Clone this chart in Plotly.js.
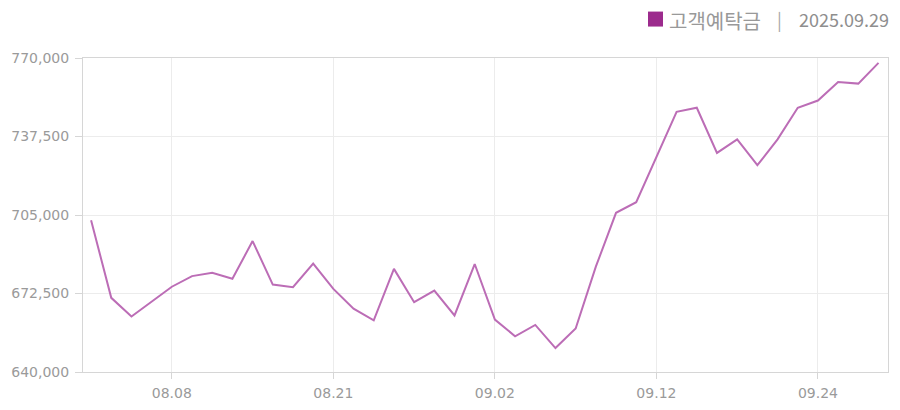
<!DOCTYPE html>
<html>
<head>
<meta charset="utf-8">
<script src="https://cdn.plot.ly/plotly-3.0.1.min.js"></script>
<style>html,body{margin:0;padding:0;background:#fff;}#chart{width:900px;height:410px;}</style>
</head>
<body>
<div id="chart"></div>
<script>
const dates = ['08.04','08.05','08.06','08.07','08.08','08.11','08.12','08.13','08.14','08.18',
  '08.19','08.20','08.21','08.22','08.25','08.26','08.27','08.28','08.29','09.01',
  '09.02','09.03','09.04','09.05','09.08','09.09','09.10','09.11','09.12','09.15',
  '09.16','09.17','09.18','09.19','09.22','09.23','09.24','09.25','09.26','09.29'];
const deposits = [702800,670700,663000,669300,675300,679700,681100,678600,694200,676200,
  675100,684900,674400,666200,661400,682700,668900,673700,663400,684700,
  661700,654800,659500,649900,658000,683600,705900,710300,729000,747700,
  749400,730700,736300,725600,736300,749400,752400,760100,759400,768000];
const xTicks = ['08.08','08.21','09.02','09.12','09.24'];
const yTicks = [640000,672500,705000,737500,770000];
const seriesName = '고객예탁금';
const asOfDate = '2025.09.29';

const L = 83, R = 888, T = 58, B = 372.5;
const px = x => (x - L) / (R - L);
const py = y => (B - y) / (B - T);

const trace = {
  type: 'scatter', mode: 'lines', x: dates, y: deposits, name: seriesName,
  line: {color: '#bc6db6', width: 2}, hoverinfo: 'skip'
};

const layout = {
  width: 900, height: 410,
  margin: {l: L, r: 900 - R, t: T, b: 410 - B},
  paper_bgcolor: '#ffffff', plot_bgcolor: '#ffffff',
  showlegend: false,
  font: {family: 'DejaVu Sans, sans-serif', color: '#999999', size: 14},
  xaxis: {
    type: 'category', categoryorder: 'array', categoryarray: dates,
    range: [-0.4, 39.47], tickmode: 'array', tickvals: xTicks, ticktext: xTicks,
    showgrid: true, gridcolor: '#ececec', gridwidth: 1,
    showline: true, linecolor: '#d6d6d6', linewidth: 1, mirror: true,
    ticks: 'outside', ticklen: 6, tickcolor: '#d6d6d6', ticklabelstandoff: 2,
    tickfont: {family: 'DejaVu Sans, sans-serif', size: 14, color: '#9a9a9a'},
    zeroline: false, fixedrange: true
  },
  yaxis: {
    range: [640000, 770000], tickmode: 'array', tickvals: yTicks,
    tickformat: ',d',
    showgrid: true, gridcolor: '#ececec', gridwidth: 1,
    showline: true, linecolor: '#d6d6d6', linewidth: 1, mirror: true,
    ticks: 'outside', ticklen: 7, tickcolor: '#d6d6d6', ticklabelstandoff: 3,
    tickfont: {family: 'DejaVu Sans, sans-serif', size: 14, color: '#9a9a9a'},
    zeroline: false, fixedrange: true
  },
  shapes: [{
    type: 'rect', xref: 'paper', yref: 'paper',
    x0: px(648), x1: px(663), y0: py(26.5), y1: py(11.5),
    fillcolor: '#9c2b8d', line: {width: 0}
  }],
  annotations: [
    {xref: 'paper', yref: 'paper', x: px(667), y: py(20), xanchor: 'left', yanchor: 'middle',
     text: seriesName, showarrow: false,
     font: {family: 'Noto Sans CJK KR, sans-serif', size: 20, color: '#999999'}},
    {xref: 'paper', yref: 'paper', x: px(779), y: py(19), xanchor: 'center', yanchor: 'middle',
     text: '|', showarrow: false,
     font: {family: 'Noto Sans CJK KR, sans-serif', size: 18, color: '#a8a8a8'}},
    {xref: 'paper', yref: 'paper', x: px(891), y: py(19), xanchor: 'right', yanchor: 'middle',
     text: asOfDate, showarrow: false,
     font: {family: 'Noto Sans CJK KR, sans-serif', size: 18, color: '#8e8e8e'}}
  ]
};

Plotly.newPlot('chart', [trace], layout, {displayModeBar: false, staticPlot: true});
</script>
</body>
</html>
